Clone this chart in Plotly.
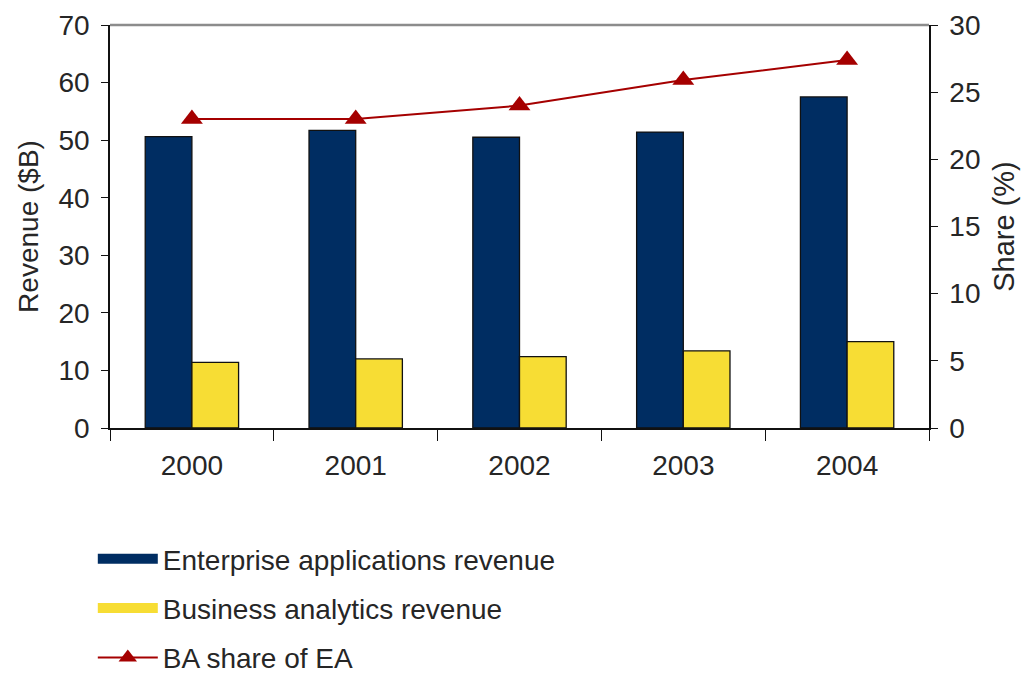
import plotly.graph_objects as go

years = ["2000", "2001", "2002", "2003", "2004"]
ea_revenue = [50.6, 51.7, 50.5, 51.4, 57.5]
ba_revenue = [11.4, 12.0, 12.4, 13.4, 15.0]
ba_share = [23.0, 23.0, 24.0, 25.9, 27.4]

series_names = ["Enterprise applications revenue", "Business analytics revenue", "BA share of EA"]

font_family = "Liberation Sans, Arial, sans-serif"
text_color = "#262626"
navy = "#002D62"
yellow = "#F7DD34"
red = "#A50000"

fig = go.Figure()
fig.add_trace(go.Bar(
    x=years, y=ea_revenue, name=series_names[0],
    marker=dict(color=navy, line=dict(color="#111111", width=1.3)),
    legendgroup="a", showlegend=False,
))
fig.add_trace(go.Bar(
    x=years, y=ba_revenue, name=series_names[1],
    marker=dict(color=yellow, line=dict(color="#111111", width=1.3)),
    legendgroup="b", showlegend=False,
))
fig.add_trace(go.Scatter(
    x=years, y=ba_share, name=series_names[2], yaxis="y2",
    mode="lines+markers",
    line=dict(color=red, width=2),
    marker=dict(symbol="triangle-up", size=19, color=red),
    legendgroup="c", showlegend=False,
))

# legend entries (wide swatches like the original legend)
fig.add_trace(go.Scatter(x=[None], y=[None], mode="lines", name=series_names[0],
                         line=dict(color=navy, width=19), legendgroup="a", legendrank=1))
fig.add_trace(go.Scatter(x=[None], y=[None], mode="lines", name=series_names[1],
                         line=dict(color=yellow, width=19), legendgroup="b", legendrank=2))
fig.add_trace(go.Scatter(x=[None], y=[None], mode="lines+markers", name=series_names[2],
                         line=dict(color=red, width=2),
                         marker=dict(symbol="triangle-up", size=19, color=red),
                         legendgroup="c", legendrank=3))

fig.update_layout(
    width=1032, height=675,
    margin=dict(l=110, r=103, t=25, b=247, autoexpand=False),
    paper_bgcolor="white", plot_bgcolor="white",
    font=dict(family=font_family, size=28, color=text_color),
    barmode="group", bargap=0.43, bargroupgap=0,
    showlegend=True,
    legend=dict(
        x=-0.021, xanchor="left", y=-0.263, yanchor="top",
        font=dict(size=28, color=text_color),
        tracegroupgap=10, traceorder="grouped",
        itemwidth=60,
        bgcolor="rgba(0,0,0,0)",
    ),
    xaxis=dict(
        type="category",
        showline=True, linecolor="#111111", linewidth=1.5,
        ticks="outside", tickson="boundaries", ticklen=11, tickcolor="#111111",
        tickfont=dict(size=28, color=text_color),
        ticklabelstandoff=12,
        showgrid=False, zeroline=False,
    ),
    yaxis=dict(
        range=[0, 70], dtick=10,
        showline=True, linecolor="#111111", linewidth=1.5,
        ticks="outside", ticklen=7, tickcolor="#111111",
        ticklabelstandoff=6,
        showgrid=False, zeroline=False,
        title=dict(text="Revenue ($B)", font=dict(size=28, color=text_color), standoff=12),
        tickfont=dict(size=28, color=text_color),
    ),
    yaxis2=dict(
        range=[0, 30], dtick=5, overlaying="y", side="right",
        showline=True, linecolor="#111111", linewidth=1.5,
        ticks="outside", ticklen=7, tickcolor="#111111",
        ticklabelstandoff=6,
        showgrid=False, zeroline=False,
        title=dict(text="Share (%)", font=dict(size=29, color=text_color), standoff=14),
        tickfont=dict(size=28, color=text_color),
    ),
    shapes=[dict(type="line", xref="paper", yref="paper", x0=0, x1=1, y0=1, y1=1,
                 line=dict(color="#8C8C8C", width=2.5))],
)

fig.write_html("out.html")
